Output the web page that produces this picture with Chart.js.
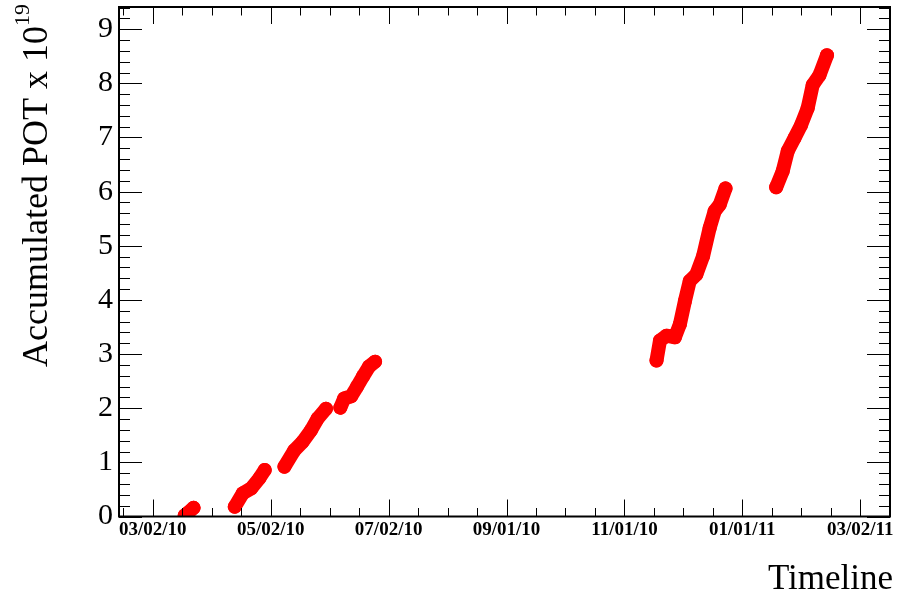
<!DOCTYPE html>
<html lang="en">
<head>
    <meta charset="UTF-8">
    <title>Accumulated POT</title>
    <script src="https://cdn.jsdelivr.net/npm/chart.js"></script>
    <style>
        body { margin: 0; background: #fff; }
        #wrap { width: 897px; height: 598px; }
    </style>
</head>
<body>
    <div id="wrap"><canvas id="potChart" width="897" height="598"></canvas></div>
    <script>
        // x = days since 03/02/10, y = accumulated POT (x 1e19); null splits the runs
        const dayNumbers = [
            16.5, 18.6, 21.1, 30,
            42.4, 46.6, 50.9, 55.2, 57.9, 63,
            68.1, 73.2, 77.5, 81.8, 85.3, 89.6, 93,
            97.0, 99.0, 102.6, 105.7, 108.8, 111.9, 115.0, 200,
            260.6, 262.4, 265.8, 270.1, 272.7, 275.3, 277.8, 281.2, 284.7, 288.1, 290.7, 293.3, 296.3, 310,
            322.5, 325.9, 328.5, 332.0, 335.4, 338.8, 341.4, 344.9, 348.8
        ];
        const potValues = [
            0.02, 0.08, 0.16, null,
            0.18, 0.43, 0.52, 0.71, 0.86, null,
            0.92, 1.22, 1.38, 1.59, 1.81, 1.99, null,
            2.01, 2.18, 2.22, 2.40, 2.59, 2.77, 2.86, null,
            2.88, 3.25, 3.34, 3.31, 3.55, 3.98, 4.35, 4.47, 4.81, 5.33, 5.64, 5.76, 6.06, null,
            6.08, 6.38, 6.75, 6.99, 7.23, 7.54, 7.97, 8.15, 8.52
        ];

        // x axis tick labels (major tick every 61 days)
        const tickDays = [0, 61, 122, 183, 244, 305, 366];
        const tickLabels = ['03/02/10', '05/02/10', '07/02/10', '09/01/10', '11/01/10', '01/01/11', '03/02/11'];
        const yTicks = [0, 1, 2, 3, 4, 5, 6, 7, 8, 9];

        const xMin = -17.5, xMax = 381.4;
        const yMin = 0, yMax = 9.41;

        // ROOT style frame with ticks drawn inside on all four sides
        const rootFrame = {
            id: 'rootFrame',
            afterDraw(chart) {
                const { ctx, chartArea: a, scales } = chart;
                const xs = scales.x, ys = scales.y;
                ctx.save();
                ctx.strokeStyle = '#000';
                ctx.lineWidth = 1;
                ctx.beginPath();
                for (let d = -15.25; d <= xMax; d += 15.25) {
                    if (d < xMin) continue;
                    const px = Math.round(xs.getPixelForValue(d)) + 0.5;
                    const major = Math.abs(d / 61 - Math.round(d / 61)) < 1e-6;
                    const len = major ? 17 : 8.5;
                    ctx.moveTo(px, a.bottom); ctx.lineTo(px, a.bottom - len);
                    ctx.moveTo(px, a.top); ctx.lineTo(px, a.top + len);
                }
                for (let i = 0; i * 0.2 <= yMax; i++) {
                    const v = i * 0.2;
                    const py = Math.round(ys.getPixelForValue(v)) + 0.5;
                    const len = i % 5 === 0 ? 23 : 11;
                    ctx.moveTo(a.left, py); ctx.lineTo(a.left + len, py);
                    ctx.moveTo(a.right, py); ctx.lineTo(a.right - len, py);
                }
                ctx.stroke();
                ctx.lineWidth = 2;
                ctx.strokeRect(a.left, a.top, a.right - a.left, a.bottom - a.top);

                // axis titles
                ctx.fillStyle = '#000';
                ctx.font = '35px "Liberation Serif"';
                ctx.textAlign = 'right';
                ctx.textBaseline = 'alphabetic';
                ctx.fillText('Timeline', 893, 589);

                ctx.font = '36px "Liberation Serif"';
                ctx.translate(47, 0);
                ctx.rotate(-Math.PI / 2);
                ctx.fillText('Accumulated POT x 10', -26, 0);
                ctx.font = '22px "Liberation Serif"';
                ctx.textAlign = 'left';
                ctx.fillText('19', -26, -18);
                ctx.restore();
            }
        };

        const ctx = document.getElementById('potChart').getContext('2d');
        const potChart = new Chart(ctx, {
            type: 'line',
            data: {
                datasets: [{
                    label: 'Accumulated POT',
                    data: dayNumbers.map((d, i) => ({ x: d, y: potValues[i] })),
                    borderColor: '#ff0000',
                    backgroundColor: '#ff0000',
                    borderWidth: 14,
                    borderCapStyle: 'round',
                    borderJoinStyle: 'round',
                    pointRadius: 7,
                    pointBorderWidth: 0,
                    pointBackgroundColor: '#ff0000',
                    spanGaps: false,
                    tension: 0
                }]
            },
            options: {
                responsive: false,
                animation: false,
                layout: { padding: { left: 0, right: 4, top: 5, bottom: 0 } },
                plugins: {
                    legend: { display: false },
                    tooltip: { enabled: false }
                },
                scales: {
                    x: {
                        type: 'linear',
                        min: xMin,
                        max: xMax,
                        grid: { display: false, drawTicks: false },
                        border: { display: false },
                        afterFit: (s) => { s.height = 81.5; s.paddingLeft = 0; s.paddingRight = 0; },
                        afterBuildTicks: (s) => { s.ticks = tickDays.map(v => ({ value: v })); },
                        ticks: {
                            padding: 2,
                            maxRotation: 0,
                            autoSkip: false,
                            color: '#000',
                            font: { family: '"Liberation Serif"', size: 19, weight: 'bold' },
                            callback: (v) => tickLabels[tickDays.indexOf(v)]
                        }
                    },
                    y: {
                        type: 'linear',
                        min: yMin,
                        max: yMax,
                        grid: { display: false, drawTicks: false },
                        border: { display: false },
                        afterFit: (s) => { s.width = 119; s.paddingTop = 0; s.paddingBottom = 0; },
                        afterBuildTicks: (s) => { s.ticks = yTicks.map(v => ({ value: v })); },
                        ticks: {
                            padding: 6,
                            color: '#000',
                            font: { family: '"Liberation Serif"', size: 30 },
                            callback: (v) => String(v)
                        }
                    }
                }
            },
            plugins: [rootFrame]
        });
    </script>
</body>
</html>
